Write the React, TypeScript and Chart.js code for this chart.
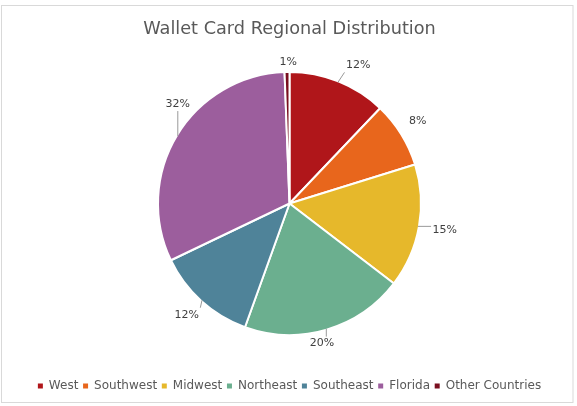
import React, { useEffect, useRef } from 'react';
import { Chart, registerables } from 'chart.js';

Chart.register(...registerables);

// ---- data ----
const chartTitle = 'Wallet Card Regional Distribution';
const categories = ['West', 'Southwest', 'Midwest', 'Northeast', 'Southeast', 'Florida', 'Other Countries'];
// share of wallet cards, in tenths of a percent (sum = 1000)
const cardsPerMille = [121, 81, 152, 201, 124, 315, 6];
const sliceColors = ['#B0161A', '#E8661C', '#E6B82B', '#6BAF8F', '#4F8399', '#9C5E9D', '#7A0F1F'];

// ---- data-label layout (style) ----
const labelGap = [17, 14, 15, 7.5, 12.5, 10, 5];
const labelNudgeDeg = [3.7, -1.4, 0, 3.9, -0.6, 11.8, 0.6];
const showLeader = [true, false, true, true, true, true, false];

const FONT = '"DejaVu Sans", sans-serif';

const framePlugin = {
  id: 'frame',
  beforeDraw(chart: any) {
    const ctx = chart.ctx as CanvasRenderingContext2D;
    ctx.save();
    ctx.fillStyle = '#ffffff';
    ctx.fillRect(0, 0, chart.width, chart.height);
    ctx.strokeStyle = '#d9d9d9';
    ctx.lineWidth = 1;
    ctx.strokeRect(1.5, 5.5, 571.5, 397);
    ctx.restore();
  },
};

const pieLabelsPlugin = {
  id: 'pieLabels',
  afterDatasetsDraw(chart: any) {
    const ctx = chart.ctx as CanvasRenderingContext2D;
    const meta = chart.getDatasetMeta(0);
    const data = chart.data.datasets[0].data as number[];
    const total = data.reduce((a, b) => a + b, 0);
    ctx.save();
    ctx.font = `11px ${FONT}`;
    ctx.textAlign = 'center';
    ctx.textBaseline = 'middle';
    meta.data.forEach((el: any, i: number) => {
      const { x, y, startAngle, endAngle, outerRadius } = el.getProps(
        ['x', 'y', 'startAngle', 'endAngle', 'outerRadius'],
        true
      );
      const mid = (startAngle + endAngle) / 2;
      const R = outerRadius - 1;
      const a = mid + (labelNudgeDeg[i] * Math.PI) / 180;
      const text = Math.round((data[i] * 100) / total) + '%';
      const w = ctx.measureText(text).width;
      const h = 11;
      const cx = x + (R + labelGap[i]) * Math.cos(a) + (w / 2) * Math.cos(a);
      const cy = y + (R + labelGap[i]) * Math.sin(a) + (h / 2) * Math.sin(a);
      if (showLeader[i]) {
        const px = x + R * Math.cos(mid);
        const py = y + R * Math.sin(mid);
        const l = cx - w / 2 - 1.5;
        const r = cx + w / 2 + 1.5;
        const t = cy - h / 2 - 1.5;
        const b = cy + h / 2 + 1.5;
        const qx = Math.min(Math.max(px, l), r);
        const qy = Math.min(Math.max(py, t), b);
        ctx.strokeStyle = '#999999';
        ctx.lineWidth = 1;
        ctx.beginPath();
        ctx.moveTo(px, py);
        ctx.lineTo(qx, qy);
        ctx.stroke();
      }
      ctx.fillStyle = '#404040';
      ctx.fillText(text, cx, cy);
    });
    ctx.restore();
  },
};

export default function App() {
  const ref = useRef<HTMLCanvasElement>(null);

  useEffect(() => {
    const chart = new Chart(ref.current as HTMLCanvasElement, {
      type: 'pie',
      data: {
        labels: categories,
        datasets: [
          {
            data: cardsPerMille,
            backgroundColor: sliceColors,
            borderColor: '#ffffff',
            borderWidth: 2,
            radius: 131.5,
          } as any,
        ],
      },
      options: {
        responsive: false,
        animation: false,
        events: [],
        layout: { padding: { left: 2, right: 0, top: 0, bottom: 4 } },
        plugins: {
          title: {
            display: true,
            text: chartTitle,
            color: '#595959',
            font: { family: FONT, size: 17.7, weight: 'normal', lineHeight: 0.2 },
            padding: { top: 27.7, bottom: 0.5 },
          },
          legend: {
            position: 'bottom',
            labels: {
              boxWidth: 5,
              boxHeight: 5,
              padding: 4.7,
              color: '#595959',
              font: { family: FONT, size: 12 },
              generateLabels: (c: any) => {
                const base = (Chart as any).overrides.pie.plugins.legend.labels.generateLabels(c);
                return base.map((it: any) => ({ ...it, lineWidth: 0, strokeStyle: it.fillStyle }));
              },
            },
          },
          tooltip: { enabled: false },
        },
      } as any,
      plugins: [framePlugin, pieLabelsPlugin],
    });
    return () => chart.destroy();
  }, []);

  return (
    <div style={{ position: 'absolute', left: 0, top: 0, width: 577, height: 406, background: '#fff' }}>
      <canvas ref={ref} width={577} height={406} style={{ display: 'block' }} />
    </div>
  );
}
